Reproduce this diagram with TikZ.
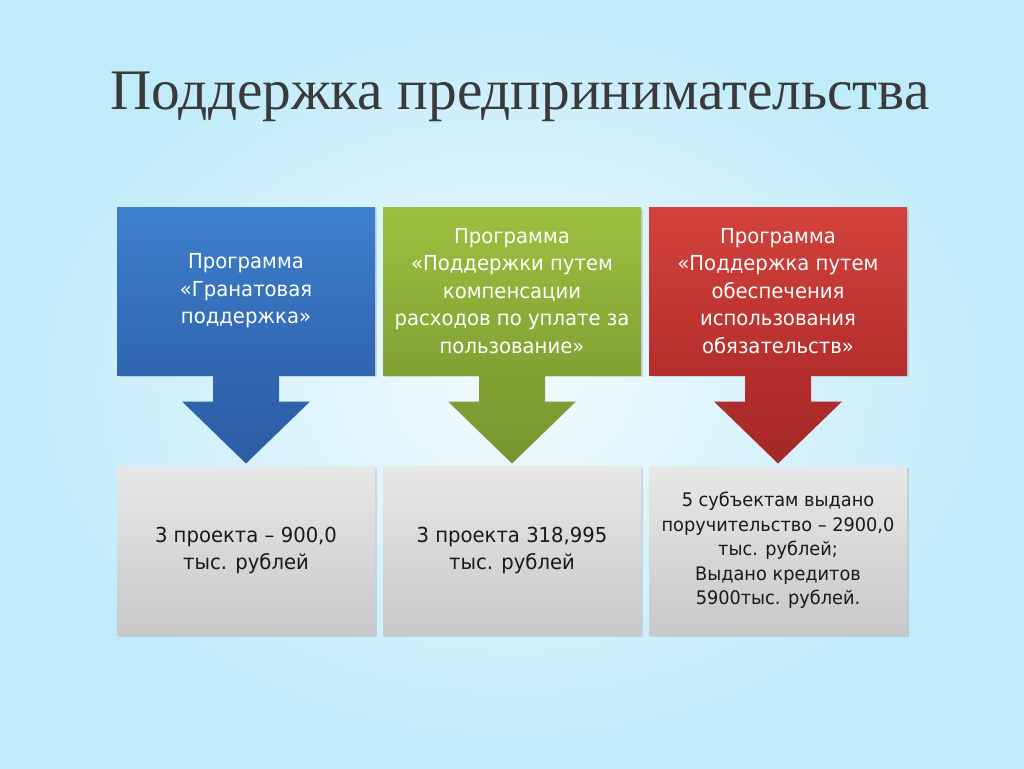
\documentclass[tikz,border=0pt]{standalone}
\usepackage{fontspec}
\setmainfont{Liberation Serif}
\newfontfamily\boxfont{DejaVu Sans}[FakeStretch=0.95]
\usetikzlibrary{calc,shadows}

\definecolor{bgInner}{RGB}{242,251,254}
\definecolor{bgOuter}{RGB}{192,235,250}
\definecolor{titleGray}{RGB}{58,58,58}
\definecolor{blueTop}{RGB}{62,128,205}
\definecolor{blueMid}{RGB}{48,101,176}
\definecolor{blueDark}{RGB}{44,93,163}
\definecolor{greenTop}{RGB}{158,192,64}
\definecolor{greenMid}{RGB}{128,162,52}
\definecolor{greenDark}{RGB}{118,150,46}
\definecolor{redTop}{RGB}{212,66,60}
\definecolor{redMid}{RGB}{180,46,44}
\definecolor{redDark}{RGB}{164,40,40}
\definecolor{grayTop}{RGB}{232,232,232}
\definecolor{grayBot}{RGB}{200,200,200}

\tikzset{every picture/.style={line width=0.75pt}}
\tikzset{
	progbox/.style={minimum width=193.5pt, minimum height=126pt, inner sep=0pt, align=center,
		text=white, font=\boxfont\fontsize{15.5}{20.6}\selectfont,
		drop shadow={opacity=0.25, shadow xshift=1.2pt, shadow yshift=-1.2pt}},
	resbox/.style={minimum width=193.5pt, minimum height=126.75pt, inner sep=0pt, align=center,
		text=black!90, font=\boxfont\fontsize{15.5}{20.3}\selectfont,
		top color=grayTop, bottom color=grayBot,
		drop shadow={opacity=0.25, shadow xshift=1.2pt, shadow yshift=-1.2pt}},
}

\begin{document}
\begin{tikzpicture}[x=0.75pt,y=0.75pt,yscale=-1,xscale=1]
	%background
	\shade [inner color=bgInner, outer color=bgOuter] (0,0) rectangle (1024,768);
	\useasboundingbox (0,0) rectangle (1024,768);

	% Title
	\node [anchor=base, text=titleGray, font=\fontsize{43}{50}\selectfont] (title) at (520,109) {Поддержка предпринимательства};

	% Programme boxes
	\node [progbox, top color=blueTop, bottom color=blueMid] (prog1) at (246,291) {Программа\\«Гранатовая\\поддержка»};
	\node [progbox, top color=greenTop, bottom color=greenMid] (prog2) at (512,291) {Программа\\«Поддержки путем\\компенсации\\расходов по уплате за\\пользование»};
	\node [progbox, top color=redTop, bottom color=redMid] (prog3) at (778,291) {Программа\\«Поддержка путем\\обеспечения\\использования\\обязательств»};

	% Result boxes
	\node [resbox] (res1) at (246,550.5) {3 проекта – 900,0\\тыс. рублей};
	\node [resbox] (res2) at (512,550.5) {3 проекта 318,995\\тыс. рублей};
	\node [resbox, font=\boxfont\fontsize{14}{18.4}\selectfont] (res3) at (778,550.5) {5 субъектам выдано\\поручительство – 2900,0\\тыс. рублей;\\Выдано кредитов\\5900тыс. рублей.};

	% Arrows
	\shade [top color=blueMid, bottom color=blueDark] ($(prog1.south)+(-33,0)$) -- ++(0,26) -- ++(-31,0) -- ($(res1.north)+(0,-2)$) -- ($(prog1.south)+(64,26)$) -- ++(-31,0) -- ++(0,-26) -- cycle;
	\shade [top color=greenMid, bottom color=greenDark] ($(prog2.south)+(-33,0)$) -- ++(0,26) -- ++(-31,0) -- ($(res2.north)+(0,-2)$) -- ($(prog2.south)+(64,26)$) -- ++(-31,0) -- ++(0,-26) -- cycle;
	\shade [top color=redMid, bottom color=redDark] ($(prog3.south)+(-33,0)$) -- ++(0,26) -- ++(-31,0) -- ($(res3.north)+(0,-2)$) -- ($(prog3.south)+(64,26)$) -- ++(-31,0) -- ++(0,-26) -- cycle;

\end{tikzpicture}
\end{document}
